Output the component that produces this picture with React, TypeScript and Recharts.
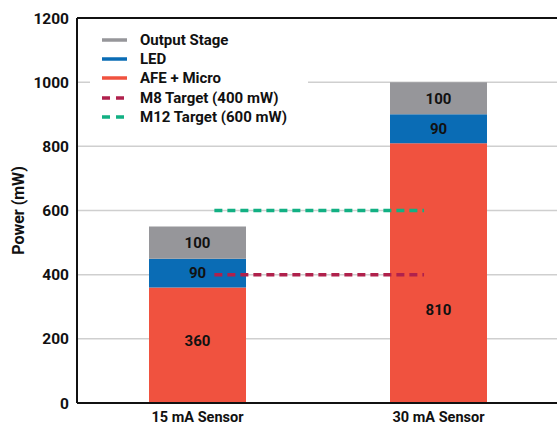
import { Bar, CartesianGrid, ComposedChart, LabelList, Line, ReferenceLine, XAxis, YAxis } from "recharts";

const categories = ["15 mA Sensor", "30 mA Sensor"];
const afeMicro = [360, 810];
const led = [90, 90];
const outputStage = [100, 100];
const yTicks = [0, 200, 400, 600, 800, 1000, 1200];
const m8Target = 400;
const m12Target = 600;
// span of the target lines, in units of the hidden numeric x axis (one unit per category)
const targetSpan = [0.57, 1.44];

const legendItems = [
  { name: "Output Stage", color: "#96969a", dashed: false },
  { name: "LED", color: "#0a6cb5", dashed: false },
  { name: "AFE + Micro", color: "#f0523f", dashed: false },
  { name: "M8 Target (400 mW)", color: "#b0214c", dashed: true },
  { name: "M12 Target (600 mW)", color: "#12b083", dashed: true },
];

const data = categories.map((name, i) => ({
  name,
  afe: afeMicro[i],
  led: led[i],
  out: outputStage[i],
}));

const targetData = targetSpan.map((x) => ({ x, m8: m8Target, m12: m12Target }));

const font = "Roboto, 'Noto Sans', sans-serif";
const labelStyle = { fontFamily: font, fontWeight: 700, fontSize: 15, fill: "#111" };

// AFE label of the taller bar sits lower so it clears the target lines
function AfeLabel(props: any) {
  const { x, y, width, height, value, index } = props;
  const dy = index === 1 ? 37 : -4;
  return (
    <text x={x + width / 2} y={y + height / 2 + dy} textAnchor="middle" dominantBaseline="central" style={labelStyle}>
      {value}
    </text>
  );
}

function Legend() {
  return (
    <div
      style={{
        position: "absolute",
        left: 90,
        top: 30,
        width: 206,
        padding: "0 0 2px 12px",
        background: "#fff",
        fontFamily: font,
        fontWeight: 700,
        fontSize: 15,
        color: "#111",
      }}
    >
      {legendItems.map((it) => (
        <div key={it.name} style={{ display: "flex", alignItems: "center", height: 19.3 }}>
          <svg width={38} height={10} style={{ flex: "none" }}>
            <line
              x1={0}
              y1={5}
              x2={25}
              y2={5}
              stroke={it.color}
              strokeWidth={3.5}
              strokeDasharray={it.dashed ? "8 6" : undefined}
            />
          </svg>
          <span style={{ whiteSpace: "nowrap" }}>{it.name}</span>
        </div>
      ))}
    </div>
  );
}

export default function App() {
  return (
    <div style={{ position: "absolute", left: 0, top: 0, width: 557, height: 427, overflow: "hidden", background: "#fff" }}>
      <ComposedChart width={559} height={427} data={data} margin={{ top: 18, right: 0, left: 0, bottom: 0 }}>
        <CartesianGrid vertical={false} stroke="#cfcfcf" strokeWidth={1.5} />
        <XAxis
          dataKey="name"
          axisLine={{ stroke: "#111", strokeWidth: 2 }}
          tickLine={false}
          tickMargin={3}
          height={24}
          tick={{ fontFamily: font, fontWeight: 700, fontSize: 14.5, fill: "#111" }}
        />
        <XAxis xAxisId="num" dataKey="x" type="number" domain={[0, 2]} allowDataOverflow hide />
        <YAxis
          domain={[0, 1200]}
          ticks={yTicks}
          width={77}
          axisLine={{ stroke: "#111", strokeWidth: 2 }}
          tickLine={false}
          interval={0}
          tick={{ fontFamily: font, fontWeight: 700, fontSize: 15.5, fill: "#111" }}
          label={{
            value: "Power (mW)",
            angle: -90,
            position: "center",
            dx: -20,
            style: { fontFamily: font, fontWeight: 700, fontSize: 16, fill: "#111" },
          }}
        />
        <Bar dataKey="afe" stackId="a" fill={legendItems[2].color} barSize={97} isAnimationActive={false}>
          <LabelList dataKey="afe" content={AfeLabel} />
        </Bar>
        <Bar dataKey="led" stackId="a" fill={legendItems[1].color} barSize={97} isAnimationActive={false}>
          <LabelList dataKey="led" position="center" style={labelStyle} />
        </Bar>
        <Bar dataKey="out" stackId="a" fill={legendItems[0].color} barSize={97} isAnimationActive={false}>
          <LabelList dataKey="out" position="center" style={labelStyle} />
        </Bar>
        <ReferenceLine y={1200} stroke="#111" strokeWidth={2} />
        <Line
          xAxisId="num"
          data={targetData}
          dataKey="m12"
          stroke={legendItems[4].color}
          strokeWidth={3.5}
          strokeDasharray="8 5"
          dot={false}
          activeDot={false}
          isAnimationActive={false}
        />
        <Line
          xAxisId="num"
          data={targetData}
          dataKey="m8"
          stroke={legendItems[3].color}
          strokeWidth={3.5}
          strokeDasharray="8 5"
          dot={false}
          activeDot={false}
          isAnimationActive={false}
        />
      </ComposedChart>
      <Legend />
    </div>
  );
}
